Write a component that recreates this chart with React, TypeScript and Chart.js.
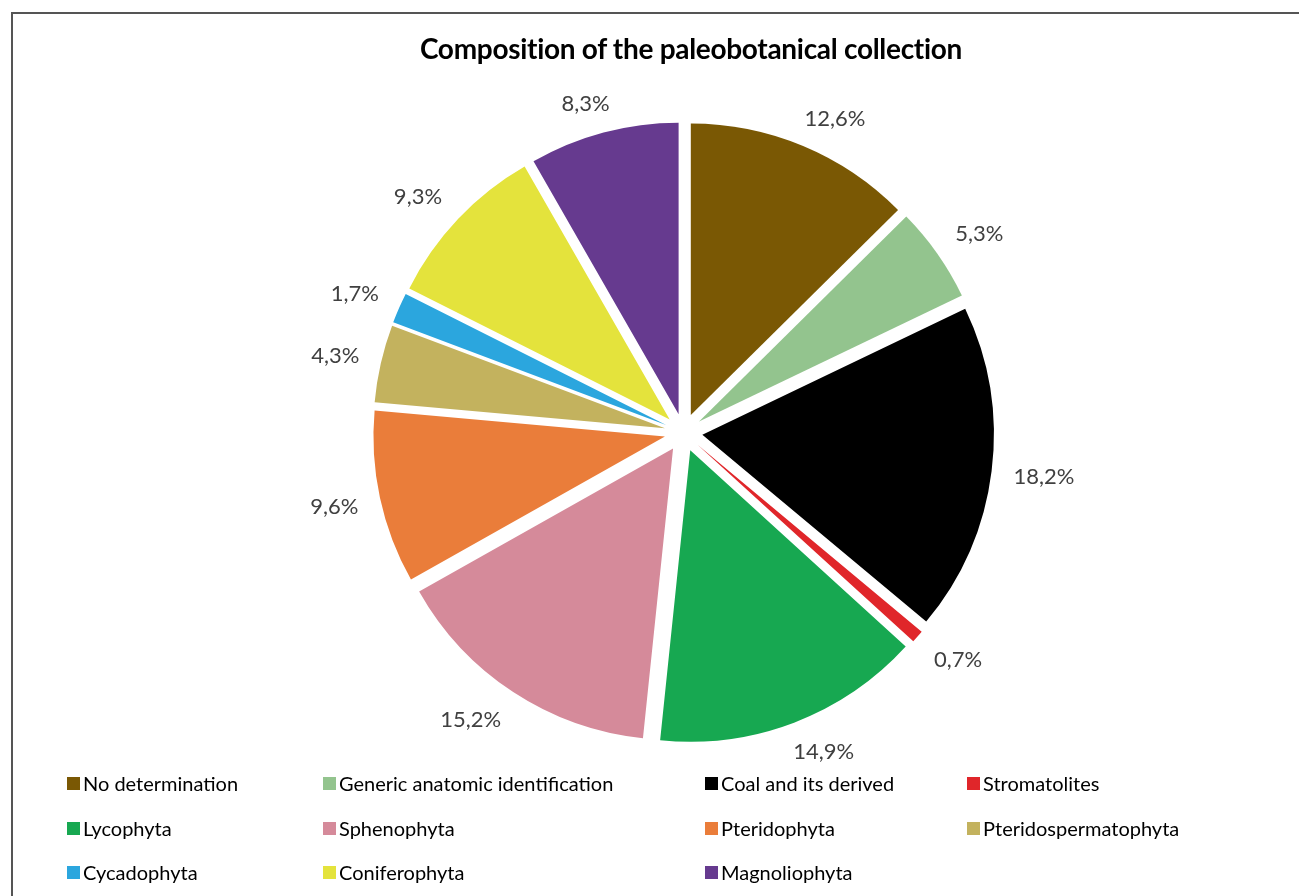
import React, { useEffect, useRef } from "react";
import { Chart, registerables } from "chart.js";

Chart.register(...registerables);

const TITLE = "Composition of the paleobotanical collection";

const categories = [
  "No determination",
  "Generic anatomic identification",
  "Coal and its derived",
  "Stromatolites",
  "Lycophyta",
  "Sphenophyta",
  "Pteridophyta",
  "Pteridospermatophyta",
  "Cycadophyta",
  "Coniferophyta",
  "Magnoliophyta",
];

const values = [12.6, 5.3, 18.2, 0.7, 14.9, 15.2, 9.6, 4.3, 1.7, 9.3, 8.3];

const valueLabels = [
  "12,6%",
  "5,3%",
  "18,2%",
  "0,7%",
  "14,9%",
  "15,2%",
  "9,6%",
  "4,3%",
  "1,7%",
  "9,3%",
  "8,3%",
];

const colors = [
  "#7a5804",
  "#93c48e",
  "#000000",
  "#e0262a",
  "#17a851",
  "#d58a9a",
  "#ea7d3a",
  "#c3b25e",
  "#2ba6de",
  "#e4e33c",
  "#663a8f",
];

// layout constants
const EXPLODE = 19;
const LABEL_GAP = 22;
const LEGEND_COLS = [67, 323, 705, 967];
const LEGEND_ROWS = [783, 828, 872];
const FONT = "Lato, 'Open Sans', sans-serif";

const clamp = (v: number) => Math.max(-1, Math.min(1, v));

const explodePlugin = {
  id: "explodeAndLabels",
  beforeDatasetDraw(chart: any, args: any) {
    const ctx = chart.ctx;
    const meta = args.meta;
    meta.data.forEach((arc: any) => {
      const mid = (arc.startAngle + arc.endAngle) / 2;
      ctx.save();
      ctx.translate(Math.cos(mid) * EXPLODE, Math.sin(mid) * EXPLODE);
      arc.draw(ctx, chart.chartArea);
      ctx.restore();
    });
    return false;
  },
  afterDatasetsDraw(chart: any) {
    const ctx = chart.ctx;
    const meta = chart.getDatasetMeta(0);
    ctx.save();
    ctx.font = `22px ${FONT}`;
    ctx.fillStyle = "#404040";
    ctx.textAlign = "center";
    ctx.textBaseline = "alphabetic";
    const capH = 16;
    meta.data.forEach((arc: any, i: number) => {
      const mid = (arc.startAngle + arc.endAngle) / 2;
      const c = Math.cos(mid);
      const s = Math.sin(mid);
      const r = arc.outerRadius + EXPLODE + LABEL_GAP;
      const text = valueLabels[i];
      const w = ctx.measureText(text).width;
      const cx = arc.x + c * r + (w / 2) * clamp(2 * c);
      const cy = arc.y + s * r + (capH / 2) * clamp(2 * s);
      ctx.fillText(text, cx, cy + capH / 2);
    });
    ctx.restore();
  },
};

export default function App() {
  const canvasRef = useRef<HTMLCanvasElement | null>(null);

  useEffect(() => {
    if (!canvasRef.current) return;
    const chart = new Chart(canvasRef.current, {
      type: "pie",
      data: {
        labels: categories,
        datasets: [
          {
            data: values,
            backgroundColor: colors,
            borderWidth: 0,
          },
        ],
      },
      options: {
        animation: false,
        responsive: false,
        maintainAspectRatio: false,
        layout: {
          padding: { left: 392, top: 141, right: 324, bottom: 172 },
        },
        plugins: {
          legend: { display: false },
          title: { display: false },
          tooltip: { enabled: false },
        },
      },
      plugins: [explodePlugin],
    });
    return () => chart.destroy();
  }, []);

  return (
    <div
      style={{
        position: "absolute",
        left: 0,
        top: 0,
        width: 1299,
        height: 896,
        background: "#ffffff",
        overflow: "hidden",
        fontFamily: FONT,
      }}
    >
      <div
        style={{
          position: "absolute",
          left: 11,
          top: 12,
          width: 1300,
          height: 900,
          borderTop: "2px solid #555555",
          borderLeft: "2px solid #555555",
        }}
      />
      <canvas
        ref={canvasRef}
        width={1299}
        height={896}
        style={{ position: "absolute", left: 0, top: 0, width: 1299, height: 896 }}
      />
      <div
        style={{
          position: "absolute",
          left: 0,
          width: 1382,
          top: 29,
          textAlign: "center",
          fontSize: 28,
          fontWeight: 700,
          color: "#000000",
          lineHeight: "38px",
          letterSpacing: -0.3,
        }}
      >
        {TITLE}
      </div>
      {categories.map((name, i) => {
        const col = i % 4;
        const row = Math.floor(i / 4);
        return (
          <div
            key={name}
            style={{
              position: "absolute",
              left: LEGEND_COLS[col],
              top: LEGEND_ROWS[row] - 13,
              height: 26,
              display: "flex",
              alignItems: "center",
              fontSize: 20,
              color: "#000000",
              whiteSpace: "nowrap",
            }}
          >
            <span
              style={{
                display: "inline-block",
                width: 13,
                height: 13,
                background: colors[i],
                marginRight: 3,
              }}
            />
            <span>{name}</span>
          </div>
        );
      })}
    </div>
  );
}
